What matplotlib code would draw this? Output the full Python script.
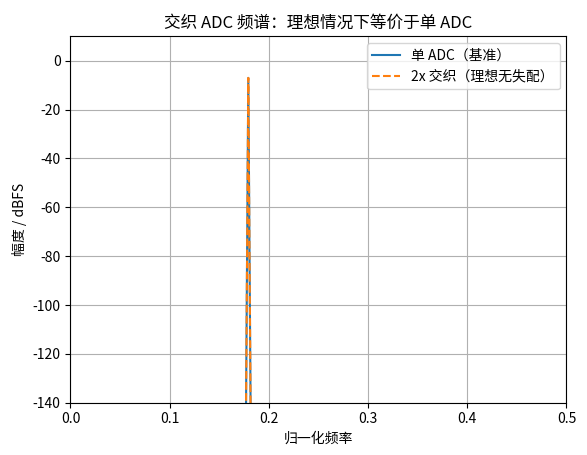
import matplotlib
matplotlib.use("Agg")
import matplotlib.pyplot as plt

plt.rcParams['font.family'] = ['Noto Sans CJK SC', 'DejaVu Sans']
plt.rcParams['axes.unicode_minus'] = False

freq = [0.0, 0.1743, 0.1793, 0.1843, 0.5]
single_db = [-300, -300, -7, -300, -300]
inter_db = [-300, -300, -7, -300, -300]

fig, ax = plt.subplots(figsize=(5.87, 4.55), dpi=100)
ax.plot(freq, single_db, color='#1f77b4', label='单 ADC（基准）')
ax.plot(freq, inter_db, color='#ff7f0e', linestyle='--', label='2x 交织（理想无失配）')
ax.set_xlim(0, 0.5)
ax.set_ylim(-140, 10)
ax.set_xlabel('归一化频率')
ax.set_ylabel('幅度 / dBFS')
ax.set_title('交织 ADC 频谱：理想情况下等价于单 ADC')
ax.grid(True)
ax.legend(loc='upper right')
fig.subplots_adjust(left=0.12, right=0.965, top=0.92, bottom=0.115)
fig.savefig('out.png')
